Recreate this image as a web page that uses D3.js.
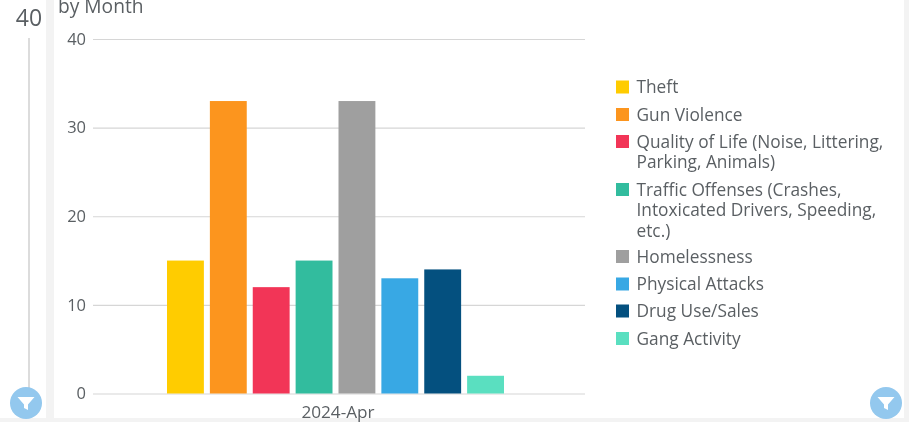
<!DOCTYPE html>
<html>
<head>
<meta charset="utf-8">
<script src="https://cdn.jsdelivr.net/npm/d3@7/dist/d3.min.js"></script>
<style>
html,body{margin:0;padding:0;background:#fff;overflow:hidden}
svg{display:block;filter:blur(0.4px)}
text{font-family:"Open Sans",sans-serif}
</style>
</head>
<body>
<svg id="c" width="909" height="422"></svg>
<script>
const categories = ["2024-Apr"];
const seriesNames = ["Theft","Gun Violence","Quality of Life (Noise, Littering, Parking, Animals)","Traffic Offenses (Crashes, Intoxicated Drivers, Speeding, etc.)","Homelessness","Physical Attacks","Drug Use/Sales","Gang Activity"];
const legendLines = [["Theft"],["Gun Violence"],["Quality of Life (Noise, Littering,","Parking, Animals)"],["Traffic Offenses (Crashes,","Intoxicated Drivers, Speeding,","etc.)"],["Homelessness"],["Physical Attacks"],["Drug Use/Sales"],["Gang Activity"]];
const seriesValues = [15,33,12,15,33,13,14,2];
const seriesColors = ["#ffcc00","#fc951e","#f23557","#32bc9e","#9f9f9f","#38a8e4","#04507f","#5adfc0"];
const yTicks = [0,10,20,30,40];
const sideValue = "40";
const titleFragment = "by Month";

const svg = d3.select("#c");
const ink = "#5a5f63";

// page chrome
svg.append("rect").attr("x",0).attr("y",0).attr("width",909).attr("height",422).attr("fill","#fff");
svg.append("rect").attr("x",46).attr("y",0).attr("width",8).attr("height",422).attr("fill","#f3f3f3");
svg.append("rect").attr("x",904).attr("y",0).attr("width",5).attr("height",422).attr("fill","#f3f3f3");
svg.append("rect").attr("x",0).attr("y",418).attr("width",909).attr("height",4).attr("fill","#f3f3f3");

// side slider
svg.append("text").attr("x",29).attr("y",26).attr("text-anchor","middle").attr("font-size",23).attr("fill",ink).text(sideValue);
svg.append("line").attr("x1",29).attr("x2",29).attr("y1",38).attr("y2",392).attr("stroke","#dcdcdc").attr("stroke-width",2);

// title
svg.append("text").attr("x",58).attr("y",13).attr("font-size",19.2).attr("fill",ink).text(titleFragment);

// scales
const y = d3.scaleLinear().domain([0,40]).range([393.5,39]);
const x0 = d3.scaleBand().domain(categories).range([93,583]);
const x1 = d3.scaleBand().domain(seriesNames).range([164,507]).paddingInner(0.14).paddingOuter(0.07);

// grid + y axis
const yAxis = d3.axisLeft(y).tickValues(yTicks).tickSize(-(585-93)).tickPadding(7);
const gy = svg.append("g").attr("transform","translate(93,0)").call(yAxis);
gy.select(".domain").remove();
gy.selectAll(".tick line").attr("stroke","#d6d6d6").attr("stroke-width",1.2);
gy.selectAll(".tick text").attr("font-size",16.5).attr("fill",ink).style("font-family",'"Open Sans",sans-serif');

// bars
svg.append("g").selectAll("rect").data(seriesNames).join("rect")
  .attr("x",d=>x1(d)).attr("width",x1.bandwidth())
  .attr("y",(d,i)=>y(seriesValues[i]))
  .attr("height",(d,i)=>y(0)-y(seriesValues[i]))
  .attr("fill",(d,i)=>seriesColors[i]);

// x axis
const xAxis = d3.axisBottom(x0).tickSize(0).tickPadding(12);
const gx = svg.append("g").attr("transform","translate(0,393.5)").call(xAxis);
gx.select(".domain").remove();
gx.selectAll(".tick text").attr("font-size",17.2).attr("fill",ink).style("font-family",'"Open Sans",sans-serif');

// legend
const legendTop = [87,114.5,141.5,189.5,256.5,284,311,338.5];
const lg = svg.append("g").selectAll("g").data(seriesNames).join("g")
  .attr("transform",(d,i)=>`translate(616,${legendTop[i]})`);
lg.append("rect").attr("x",0).attr("y",-6.5).attr("width",13).attr("height",13).attr("fill",(d,i)=>seriesColors[i]);
lg.each(function(d,i){
  const g = d3.select(this);
  legendLines[i].forEach((l,j)=>{
    g.append("text").attr("x",20.5).attr("y",6+j*20.5).attr("font-size",17.3).attr("fill",ink).text(l);
  });
});

// filter buttons
[[26,403],[886,403]].forEach(([cx,cy])=>{
  const b = svg.append("g").attr("transform",`translate(${cx},${cy})`);
  b.append("circle").attr("r",16).attr("fill","#93c8ee");
  b.append("path").attr("d",d3.line()([[-8.5,-6],[8.5,-6],[2,1.5],[2,7],[-2,5],[-2,1.5]])+"Z").attr("fill","#fff");
});
</script>
</body>
</html>
